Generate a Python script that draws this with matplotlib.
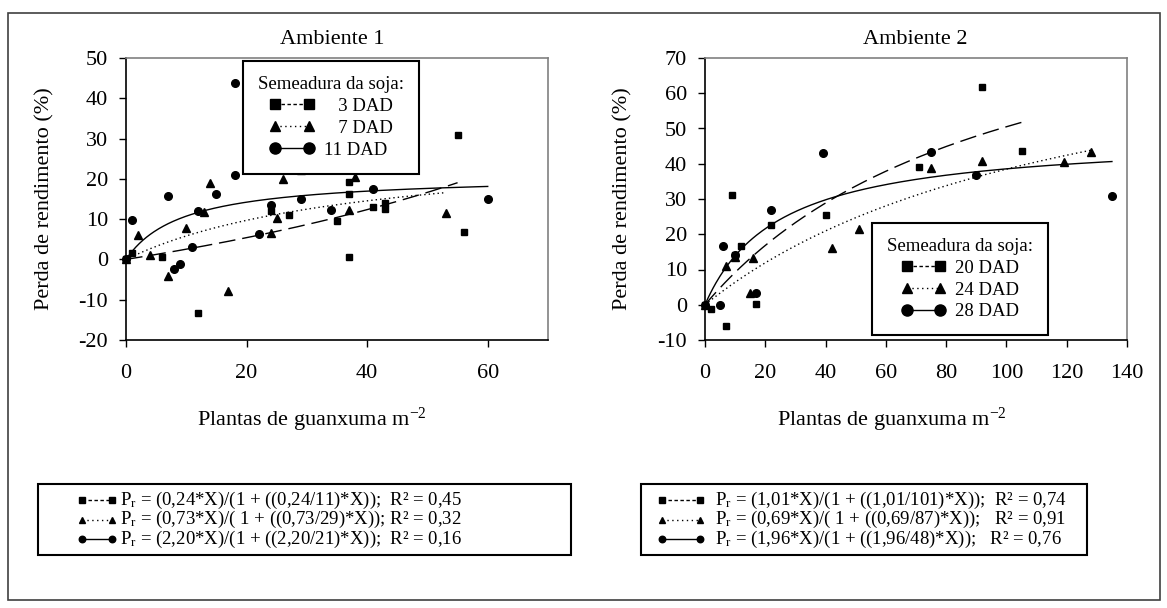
import numpy as np
import matplotlib
matplotlib.use('Agg')
import matplotlib.pyplot as plt
from matplotlib.lines import Line2D
from matplotlib.patches import Rectangle

plt.rcParams['font.family'] = ['Liberation Serif', 'DejaVu Serif']
plt.rcParams['mathtext.fontset'] = 'custom'
plt.rcParams['mathtext.rm'] = 'Liberation Serif'
plt.rcParams['mathtext.it'] = 'Liberation Serif:italic'
plt.rcParams['axes.unicode_minus'] = False

# ---- Ambiente 1 (semeadura 3, 7 e 11 DAD) ----
a1_x_3 = [0, 1, 6, 12, 24, 27, 35, 37, 37, 37, 41, 43, 43, 55, 56]
a1_y_3 = [0, 1.6, 0.5, -13.3, 12.0, 11.0, 9.5, 19.2, 16.3, 0.7, 13.0, 14.0, 12.6, 30.8, 6.9]
a1_x_7 = [0, 2, 4, 7, 10, 13, 14, 17, 24, 25, 26, 29, 37, 38, 53]
a1_y_7 = [0, 6.0, 1.0, -4.0, 7.8, 11.7, 19.0, -7.8, 6.6, 10.3, 20.0, 22.1, 12.2, 20.5, 11.5]
a1_x_11 = [0, 1, 7, 8, 9, 11, 12, 15, 18, 18, 22, 24, 29, 34, 41, 60]
a1_y_11 = [0, 9.7, 15.7, -2.3, -1.2, 3.0, 12.0, 16.2, 43.7, 21.0, 6.2, 13.6, 15.0, 12.2, 17.5, 15.0]

# ---- Ambiente 2 (semeadura 20, 24 e 28 DAD) ----
a2_x_20 = [0, 2, 7, 9, 10, 12, 17, 22, 40, 71, 92, 105]
a2_y_20 = [0, -1.3, -5.9, 31.1, 14.1, 16.7, 0.2, 22.6, 25.4, 39.0, 61.9, 43.6]
a2_x_24 = [0, 7, 10, 15, 16, 42, 51, 75, 92, 119, 128]
a2_y_24 = [0, 10.9, 13.6, 3.4, 13.4, 16.0, 21.6, 38.7, 40.8, 40.4, 43.2]
a2_x_28 = [0, 5, 6, 10, 17, 22, 39, 75, 90, 135]
a2_y_28 = [0, -0.2, 16.6, 14.1, 3.4, 26.8, 43.0, 43.2, 36.9, 30.9]

a1_i = [0.24, 0.73, 2.20]
a1_a = [-43, 29, 21]
a1_xmax = [55, 53, 60]
a2_i = [1.01, 0.69, 1.96]
a2_a = [101, 87, 48]
a2_xmax = [105, 128, 135]

a1_labels = ['   3 DAD', '   7 DAD', '11 DAD']
a2_labels = ['20 DAD', '24 DAD', '28 DAD']

eq1 = ['P$_\\mathrm{r}$ = (0,24*X)/(1 + ((0,24/11)*X));  R\u00b2 = 0,45',
       'P$_\\mathrm{r}$ = (0,73*X)/( 1 + ((0,73/29)*X)); R\u00b2 = 0,32',
       'P$_\\mathrm{r}$ = (2,20*X)/(1 + ((2,20/21)*X));  R\u00b2 = 0,16']
eq2 = ['P$_\\mathrm{r}$ = (1,01*X)/(1 + ((1,01/101)*X));  R\u00b2 = 0,74',
       'P$_\\mathrm{r}$ = (0,69*X)/( 1 + ((0,69/87)*X));   R\u00b2 = 0,91',
       'P$_\\mathrm{r}$ = (1,96*X)/(1 + ((1,96/48)*X));   R\u00b2 = 0,76']

markers = ['s', '^', 'o']
msizes = [5, 5.5, 5.5]
leg_msizes = [7.5, 7, 8]
curve_ls = [(0, (12, 5)), (0, (1, 2.2)), '-']
leg_ls = [(0, (2.5, 1.8)), (0, (1, 2.5)), '-']

W, H = 1167, 608
fig = plt.figure(figsize=(W / 100, H / 100), dpi=100)


def fx(px):
    return px / W


def fy(py):
    return 1 - py / H


def panel(ax, left_px, ylab_px, xs, ys, ii, aa, xmax, xlim, ylim, xt, yt):
    for k in range(3):
        ax.plot(xs[k], ys[k], linestyle='none', marker=markers[k], ms=msizes[k],
                color='black', clip_on=False, zorder=3)
        xc = np.linspace(0, xmax[k], 300)
        yc = ii[k] * xc / (1 + (ii[k] / aa[k]) * xc)
        ax.plot(xc, yc, color='black', lw=1.0, linestyle=curve_ls[k], zorder=2)
    ax.set_xlim(*xlim)
    ax.set_ylim(*ylim)
    ax.set_xticks(xt)
    ax.set_yticks(yt)
    ax.tick_params(direction='out', length=5, width=1, labelsize=16, color='black')
    ax.tick_params(axis='x', pad=12)
    ax.tick_params(axis='y', pad=8)
    ax.set_ylabel('Perda de rendimento (%)', fontsize=16)
    ax.yaxis.set_label_coords((ylab_px - left_px) / 422, 0.5)
    for s in ['top', 'right']:
        ax.spines[s].set_color('#808080')
    for s in ax.spines.values():
        s.set_linewidth(1.2)


def handles(sizes):
    return [Line2D([0], [0], color='black', lw=1.0, linestyle=leg_ls[k],
                   marker=markers[k], ms=sizes[k]) for k in range(3)]


ax1 = fig.add_axes([fx(126), fy(340), fx(548) - fx(126), fy(58) - fy(340)])
panel(ax1, 126, 54, [a1_x_3, a1_x_7, a1_x_11], [a1_y_3, a1_y_7, a1_y_11],
      a1_i, a1_a, a1_xmax, (0, 70), (-20, 50), [0, 20, 40, 60], range(-20, 51, 10))

ax2 = fig.add_axes([fx(705), fy(340), fx(1127) - fx(705), fy(58) - fy(340)])
panel(ax2, 705, 632, [a2_x_20, a2_x_24, a2_x_28], [a2_y_20, a2_y_24, a2_y_28],
      a2_i, a2_a, a2_xmax, (0, 140), (-10, 70), range(0, 141, 20), range(-10, 71, 10))

# legendas internas
for ax, labs, anchor in [(ax1, a1_labels, (0.277, 0.989)), (ax2, a2_labels, (0.396, 0.415))]:
    lg = ax.legend(handles(leg_msizes), labs, title='Semeadura da soja:', loc='upper left',
                   bbox_to_anchor=anchor, borderaxespad=0, numpoints=2, fontsize=13.5,
                   title_fontsize=13.5, handlelength=2.4, handletextpad=0.5,
                   labelspacing=0.25, borderpad=0.8, fancybox=False, framealpha=1,
                   edgecolor='black')
    lg.get_frame().set_linewidth(1.5)
    lg.set_zorder(5)

# titulos e rotulos do eixo x
fig.text(fx(332), fy(39), 'Ambiente 1', ha='center', va='center', fontsize=16)
fig.text(fx(915), fy(39), 'Ambiente 2', ha='center', va='center', fontsize=16)
fig.text(fx(312), fy(420), 'Plantas de guanxuma m$^{-2}$', ha='center', va='center', fontsize=16)
fig.text(fx(892), fy(420), 'Plantas de guanxuma m$^{-2}$', ha='center', va='center', fontsize=16)

# caixas com as equacoes
for eqs, x0, x1, sx0, sx1, tx in [(eq1, 38, 571, 82, 112, 120), (eq2, 641, 1087, 662, 700, 715)]:
    fig.add_artist(Rectangle((fx(x0), fy(555)), fx(x1) - fx(x0), fy(484) - fy(555),
                             transform=fig.transFigure, fill=False, ec='black', lw=1.5))
    for k in range(3):
        yy = fy(500 + 19.5 * k)
        fig.add_artist(Line2D([fx(sx0), fx(sx1)], [yy, yy], transform=fig.transFigure,
                              color='black', lw=1.0, linestyle=leg_ls[k],
                              marker=markers[k], ms=msizes[k] * 0.85))
        fig.text(fx(tx), yy, eqs[k], ha='left', va='center', fontsize=13.5)

# moldura externa
fig.add_artist(Rectangle((fx(8), fy(600)), fx(1160) - fx(8), fy(13) - fy(600),
                         transform=fig.transFigure, fill=False, ec='#404040', lw=1.2))

fig.savefig('out.png', dpi=100)
